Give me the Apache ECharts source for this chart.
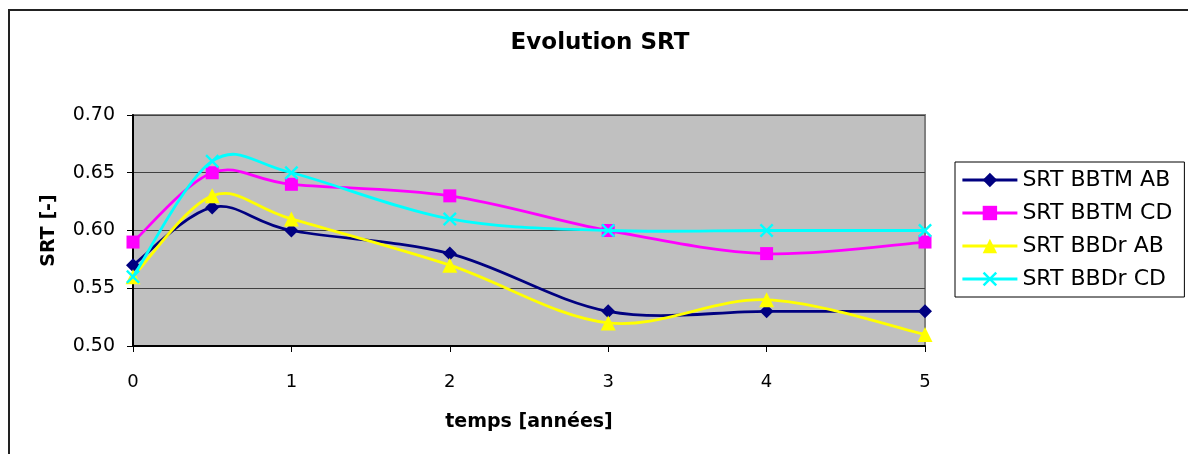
<!DOCTYPE html>
<html>
<head>
<meta charset="utf-8">
<script src="https://cdn.jsdelivr.net/npm/echarts@6/dist/echarts.min.js"></script>
<style>html,body{margin:0;padding:0;background:#fff}#c{width:1188px;height:454px}</style>
</head>
<body>
<div id="c"></div>
<script>
const titleText = 'Evolution SRT';
const xName = 'temps [années]';
const yName = 'SRT [-]';
const years = [0, 0.5, 1, 2, 3, 4, 5];
const seriesNames = ['SRT BBTM AB', 'SRT BBTM CD', 'SRT BBDr AB', 'SRT BBDr CD'];
const bbtmAB = [0.57, 0.62, 0.60, 0.58, 0.53, 0.53, 0.53];
const bbtmCD = [0.59, 0.65, 0.64, 0.63, 0.60, 0.58, 0.59];
const bbdrAB = [0.56, 0.63, 0.61, 0.57, 0.52, 0.54, 0.51];
const bbdrCD = [0.56, 0.66, 0.65, 0.61, 0.60, 0.60, 0.60];
const xTicks = [0, 1, 2, 3, 4, 5];
const yTicks = [0.50, 0.55, 0.60, 0.65, 0.70];

const FONT = 'DejaVu Sans';
const colors = ['#000080', '#FF00FF', '#FFFF00', '#00FFFF'];
const symbols = ['diamond', 'rect', 'triangle',
  'path://M0,1.2L1.2,0L5,3.8L8.8,0L10,1.2L6.2,5L10,8.8L8.8,10L5,6.2L1.2,10L0,8.8L3.8,5Z'];
const sizes = [14, 13, 15, 14];
const values = [bbtmAB, bbtmCD, bbdrAB, bbdrCD];
const LW = 2.8;

// Excel-like smoothed curve (Catmull-Rom bezier) built in pixel space from api.coord
function curveRenderer(vals, color) {
  return function (params, api) {
    if (params.dataIndex !== 0) return null;
    const p = years.map((x, j) => api.coord([x, vals[j]]));
    let d = 'M' + p[0][0] + ',' + p[0][1];
    for (let i = 0; i < p.length - 1; i++) {
      const p0 = p[Math.max(i - 1, 0)], p1 = p[i], p2 = p[i + 1], p3 = p[Math.min(i + 2, p.length - 1)];
      const c1 = [p1[0] + (p2[0] - p0[0]) / 6, p1[1] + (p2[1] - p0[1]) / 6];
      const c2 = [p2[0] - (p3[0] - p1[0]) / 6, p2[1] - (p3[1] - p1[1]) / 6];
      d += 'C' + c1[0] + ',' + c1[1] + ',' + c2[0] + ',' + c2[1] + ',' + p2[0] + ',' + p2[1];
    }
    return {
      type: 'path',
      shape: {pathData: d},
      style: {fill: 'none', stroke: color, lineWidth: LW, lineJoin: 'round'}
    };
  };
}

const series = [];
seriesNames.forEach((n, i) => {
  series.push({
    name: n + ' curve',
    type: 'custom',
    renderItem: curveRenderer(values[i], colors[i]),
    data: years.map((x, j) => [x, values[i][j]]),
    clip: true,
    silent: true,
    z: 2 + 2 * i
  });
  series.push({
    name: n,
    type: 'line',
    data: years.map((x, j) => [x, values[i][j]]),
    symbol: symbols[i],
    symbolSize: sizes[i],
    showAllSymbol: true,
    lineStyle: {color: colors[i], width: LW, opacity: 0},
    itemStyle: {color: colors[i], borderWidth: 0},
    emphasis: {disabled: true},
    z: 3 + 2 * i
  });
});

const chart = echarts.init(document.getElementById('c'), null, {renderer: 'canvas'});
chart.setOption({
  animation: false,
  backgroundColor: '#ffffff',
  graphic: [
    {type: 'rect', shape: {x: 9, y: 10, width: 1400, height: 700}, style: {fill: 'none', stroke: '#222', lineWidth: 2}, z: 0},
    {type: 'text', x: 600, y: 32, style: {text: titleText, font: 'bold 23px "' + FONT + '"', fill: '#000', textAlign: 'center', textVerticalAlign: 'top'}, z: 10}
  ],
  grid: {left: 133, right: 263, top: 115, bottom: 108, show: true, backgroundColor: '#C0C0C0', borderColor: '#808080', borderWidth: 2},
  legend: {
    orient: 'vertical',
    left: 955, top: 162,
    itemWidth: 55, itemHeight: 18,
    itemGap: 9,
    padding: [6, 12, 6, 6],
    borderColor: '#000', borderWidth: 1,
    backgroundColor: '#fff',
    textStyle: {fontFamily: FONT, fontSize: 22, color: '#000', lineHeight: 24},
    lineStyle: {opacity: 1, width: LW},
    data: seriesNames.map((n, i) => ({name: n, lineStyle: {opacity: 1, color: colors[i], width: LW}}))
  },
  xAxis: {
    type: 'value', min: 0, max: 5, interval: 1,
    name: xName, nameLocation: 'middle', nameGap: 67,
    nameTextStyle: {fontFamily: FONT, fontWeight: 'bold', fontSize: 19, color: '#000'},
    axisLine: {show: true, onZero: false, lineStyle: {color: '#000', width: 2}},
    axisTick: {show: true, length: 6, lineStyle: {color: '#000', width: 1}},
    axisLabel: {margin: 27, fontFamily: FONT, fontSize: 18, color: '#000',
      customValues: xTicks, formatter: v => String(v)},
    splitLine: {show: false}
  },
  yAxis: {
    type: 'value', min: 0.5, max: 0.7, interval: 0.05,
    name: yName, nameLocation: 'middle', nameGap: 74, nameRotate: 90,
    nameTextStyle: {fontFamily: FONT, fontWeight: 'bold', fontSize: 19, color: '#000'},
    axisLine: {show: true, onZero: false, lineStyle: {color: '#000', width: 2}},
    axisTick: {show: true, length: 6, lineStyle: {color: '#000', width: 1}},
    axisLabel: {margin: 18, fontFamily: FONT, fontSize: 19, color: '#000',
      customValues: yTicks, formatter: v => v.toFixed(2)},
    splitLine: {show: true, lineStyle: {color: '#404040', width: 1}}
  },
  series: series
});
</script>
</body>
</html>
